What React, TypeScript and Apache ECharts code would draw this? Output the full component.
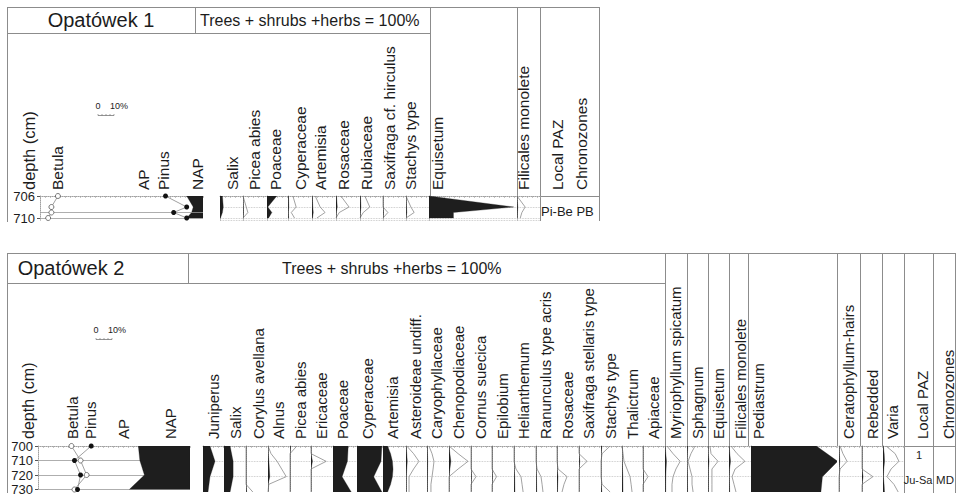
import { useEffect, useRef } from "react";
import * as echarts from "echarts";

// ================= Opatówek 1 (data) =================
const title1 = "Opatówek 1";
const sumText = "Trees + shrubs +herbs = 100%";
const depths1 = [706, 708, 709, 710];
const depthLabels1 = [706, 710];
const sampleLines1 = [709, 710];
const betula1 = [11, 7, 7, 5];
const pinus1 = [77, 90, 82, 90];
const ap1 = [90, 94, 93, 90];
const salix1 = [1.5, 2, 1.5, 0.3];
const picea1 = [0, 0.2, 0.3, 0];
const poaceae1 = [6, 0.5, 3, 1];
const cyperaceae1 = [0.3, 0.5, 0.2, 0.4];
const artemisia1 = [0.2, 0.5, 0.8, 0.3];
const rosaceae1 = [0.3, 0.8, 0.2, 0];
const rubiaceae1 = [0.3, 0.6, 0.2, 0];
const saxifraga1 = [0, 0, 0.3, 0];
const stachys1 = [0, 0.3, 0.5, 0];
const equisetum1 = [0, 52, 15, 15];
const filicales1 = [0, 0.5, 0.3, 0.2];
const headLabels1 = ["depth (cm)", "Betula", "AP", "Pinus", "NAP"];
const taxa1 = ["Salix", "Picea abies", "Poaceae", "Cyperaceae", "Artemisia", "Rosaceae", "Rubiaceae", "Saxifraga cf. hirculus", "Stachys type", "Equisetum", "Filicales monolete"];
const tailLabels1 = ["Local PAZ", "Chronozones"];
const values1 = [salix1, picea1, poaceae1, cyperaceae1, artemisia1, rosaceae1, rubiaceae1, saxifraga1, stachys1, equisetum1, filicales1];
const zone1 = "Pi-Be";
const chrono1 = "PB";

// ================= Opatówek 2 (data) =================
const title2 = "Opatówek 2";
const depths2 = [700, 710, 720, 730];
const depthsFine2 = [700, 705, 710, 715, 720, 725, 730];
const betula2 = [22, 28, 32, 24];
const pinus2 = [35, 24, 28, 26];
const ap2 = [66, 67, 70, 60];
const juniperus2 = [4.6, 7.9, 4.6, 3.3];
const salix2 = [4, 6, 6, 4];
const corylus2 = [0, 0, 0, 0, 0, 0, 0.45];
const alnus2 = [0, 0.2, 0.6, 0.9, 1.2, 0.05, 0];
const picea2 = [0.45, 0, 0, 0, 0, 0, 0];
const ericaceae2 = [0, 0, 1.0, 0, 0, 0, 0];
const poaceae2 = [10, 9.5, 6, 12];
const cyperaceae2 = [16.4, 15.8, 11, 16.4];
const artemisia2 = [3, 5, 6.2, 6.6, 6.2, 5, 3];
const asteroideae2 = [0.05, 0.5, 0.85, 0.5, 0.2, 0.2, 0.2];
const caryophyllaceae2 = [0.13, 0.33, 0.46, 0.4, 0.33, 0.26, 0.26];
const chenopodiaceae2 = [0, 0.6, 1.25, 0.6, 0, 0, 0];
const cornus2 = [0, 0, 0, 0, 0.33, 0, 0];
const epilobium2 = [0, 0, 0, 0, 0.3, 0, 0];
const helianthemum2 = [0, 0, 0, 0.13, 0.46, 0.53, 0.6];
const ranunculus2 = [0, 0, 0, 0.07, 0.33, 0.4, 0.46];
const rosaceae2 = [0, 0, 0, 0.07, 0.66, 0.46, 0.33];
const saxifraga2 = [0, 0, 0.53, 0, 0, 0, 0];
const stachys2 = [0.6, 0.07, 0, 0, 0, 0.07, 0.6];
const thalictrum2 = [0, 0.07, 0.13, 0.33, 0.53, 0.6, 0.66];
const apiaceae2 = [0, 0, 0, 0, 0.33, 0, 0];
const myriophyllum2 = [0.13, 0.53, 1, 0.72, 0.53, 0.46, 0.46];
const sphagnum2 = [0.53, 0.26, 0.07, 0.2, 0.33, 0.33, 0.4];
const equisetum2 = [0.13, 0.2, 0.66, 0.26, 0.26, 0.26, 0.26];
const filicales2 = [0.13, 0.53, 1.05, 0.4, 0.2, 0.33, 0.46];
const pediastrum2 = [43, 57, 47, 46];
const ceratophyllum2 = [0.07, 0.26, 0.53, 0.07, 0, 0, 0];
const rebedded2 = [0, 0, 0, 0, 0.72, 0, 0];
const varia2 = [0.2, 0.8, 1.05, 0.53, 0.26, 0.72, 1];
const headLabels2 = ["depth (cm)", "Betula", "Pinus", "AP", "NAP"];
const taxa2 = ["Juniperus", "Salix", "Corylus avellana", "Alnus", "Picea abies", "Ericaceae", "Poaceae", "Cyperaceae", "Artemisia", "Asteroideae undiff.", "Caryophyllaceae", "Chenopodiaceae", "Cornus suecica", "Epilobium", "Helianthemum", "Ranunculus type acris", "Rosaceae", "Saxifraga stellaris type", "Stachys type", "Thalictrum", "Apiaceae", "Myriophyllum spicatum", "Sphagnum", "Equisetum", "Filicales monolete", "Pediastrum", "Ceratophyllum-hairs", "Rebedded", "Varia"];
const tailLabels2 = ["Local PAZ", "Chronozones"];
const values2 = [juniperus2, salix2, corylus2, alnus2, picea2, ericaceae2, poaceae2, cyperaceae2, artemisia2, asteroideae2, caryophyllaceae2, chenopodiaceae2, cornus2, epilobium2, helianthemum2, ranunculus2, rosaceae2, saxifraga2, stachys2, thalictrum2, apiaceae2, myriophyllum2, sphagnum2, equisetum2, filicales2, pediastrum2, ceratophyllum2, rebedded2, varia2];
const zoneNum2 = "1";
const zone2 = "Ju-Sa";
const chrono2 = "MD";

// ================= layout & style =================
const FONT = "'Liberation Sans', Arial, Helvetica, sans-serif";
const INK = "#1c1c1c";
const FRAME = "#8c8c8c";
const CURVE = "#8a8a8a";
const FILL = "#1e1e1e";
const EXAG = 10;

// [zeroX, width, labelX, mode]
const cols1: [number, number, number, string][] = [
  [220, 23, 232, "fill"], [243, 24, 254, "both"], [267, 21, 275, "fill"], [288, 24, 300, "both"],
  [312, 24, 320, "both"], [336, 24, 343, "both"], [360, 23, 366, "both"], [383, 23, 389, "both"],
  [406, 23, 410, "both"], [429, 88, 437, "fill"], [517, 23, 523, "both"],
];
const head1X = [29, 57, 143, 163, 197];
const tail1X = [557, 581];
const cols2: [number, number, number, string][] = [
  [203, 21, 213, "fill"], [224, 22, 235, "fill"], [246, 22, 258, "both"], [268, 22, 278, "both"],
  [290, 21, 300, "both"], [311, 22, 321, "both"], [333, 24, 342, "fill"], [357, 26, 367, "fill"],
  [383, 23, 392, "fill"], [406, 21, 415, "both"], [427, 22, 436, "both"], [449, 22, 458, "both"],
  [471, 21, 480, "both"], [492, 22, 502, "both"], [514, 22, 523, "both"], [536, 21, 545, "both"],
  [557, 22, 567, "both"], [579, 22, 588, "both"], [601, 21, 610, "both"], [622, 21, 632, "both"],
  [643, 22, 653, "both"], [665, 22, 675, "both"], [687, 21, 697, "both"], [708, 21, 718, "both"],
  [729, 22, 740, "both"], [751, 86, 758, "fill"], [839, 23, 848, "both"], [862, 21, 872, "both"],
  [883, 21, 892, "both"],
];
const head2X = [28, 72, 90, 123, 170];
const tail2X = [922, 948];

function buildOption() {
  const grid: any[] = [];
  const xAxis: any[] = [];
  const yAxis: any[] = [];
  const series: any[] = [];
  const graphic: any[] = [];

  const dottedLine = { show: true, onZero: false, lineStyle: { color: "#a0a0a0", type: "dotted", width: 1 } };

  function panel(left: number, top: number, width: number, height: number, ppp: number, yMin: number, yMax: number, yCfg: any) {
    const gi = grid.length;
    grid.push({ left, top, width, height });
    xAxis.push({
      gridIndex: gi, type: "value", position: "top", min: 0, max: width / ppp, interval: 5 / ppp,
      axisLine: dottedLine,
      axisTick: { show: true, inside: true, length: 2, lineStyle: { color: "#a0a0a0", width: 0.6 } },
      axisLabel: { show: false }, splitLine: { show: false },
    });
    yAxis.push({ gridIndex: gi, type: "value", inverse: true, min: yMin, max: yMax, ...yCfg });
    return gi;
  }

  function fillSeries(gi: number, vals: number[], deps: number[], base?: number) {
    const data = vals.map((v, i) => [v, deps[i]]);
    return {
      type: "custom", xAxisIndex: gi, yAxisIndex: gi, data, silent: true, clip: true, z: 3,
      encode: { x: 0, y: 1 },
      renderItem: (params: any, api: any) => {
        if (params.dataIndex !== 0) return null;
        const n = deps.length;
        let pts: number[][];
        if (base === undefined) {
          pts = [api.coord([0, deps[0]]), ...data.map((d) => api.coord(d)), api.coord([0, deps[n - 1]])];
        } else {
          pts = [...data.map((d) => api.coord(d)), api.coord([base, deps[n - 1]]), api.coord([base, deps[0]])];
        }
        return { type: "polygon", shape: { points: pts }, style: { fill: FILL, stroke: FILL, lineWidth: 0.3 } };
      },
    };
  }

  function curveSeries(gi: number, vals: number[], deps: number[], factor: number) {
    return {
      type: "line", xAxisIndex: gi, yAxisIndex: gi, data: vals.map((v, i) => [v * factor, deps[i]]),
      symbol: "none", silent: true, z: 2, lineStyle: { color: CURVE, width: 0.8 },
    };
  }

  function taxaCols(cols: [number, number, number, string][], vals: number[][], depFor: (v: number[]) => number[], top: number, height: number, ppp: number, yMin: number, yMax: number, yCfg: any) {
    cols.forEach((c, i) => {
      const gi = panel(c[0], top, c[1], height, ppp, yMin, yMax, yCfg);
      const deps = depFor(vals[i]);
      series.push(fillSeries(gi, vals[i], deps));
      if (c[3] === "both") series.push(curveSeries(gi, vals[i], deps, EXAG));
    });
  }

  // ---------- Opatówek 1 ----------
  const top1 = 196, h1 = 24.2, ppp1 = 1.63, yMin1 = 706, yMax1 = 710.4;
  const apCfg1 = {
    axisLine: dottedLine,
    axisTick: { show: true, length: 3, customValues: depthLabels1, lineStyle: { color: "#555" } },
    axisLabel: { show: true, customValues: depthLabels1, fontSize: 13, color: INK, fontFamily: FONT, margin: 5 },
    splitLine: { show: false },
  };
  const ap1gi = panel(40, top1, 163, h1, ppp1, yMin1, yMax1, apCfg1);
  series.push({
    type: "line", xAxisIndex: ap1gi, yAxisIndex: ap1gi, data: [[0, yMin1]], symbol: "none", silent: true, z: 1,
    lineStyle: { opacity: 0 },
    markLine: { silent: true, symbol: "none", label: { show: false }, lineStyle: { color: "#999", type: "solid", width: 0.8 }, data: sampleLines1.map((d) => ({ yAxis: d })) },
  });
  series.push(fillSeries(ap1gi, ap1, depths1, 100));
  series.push({
    type: "line", xAxisIndex: ap1gi, yAxisIndex: ap1gi, data: betula1.map((v, i) => [v, depths1[i]]), z: 5, silent: true,
    symbol: "circle", symbolSize: 5, itemStyle: { color: "#fff", borderColor: "#555", borderWidth: 0.8 }, lineStyle: { color: "#888", width: 0.8 },
  });
  series.push({
    type: "line", xAxisIndex: ap1gi, yAxisIndex: ap1gi, data: pinus1.map((v, i) => [v, depths1[i]]), z: 5, silent: true,
    symbol: "circle", symbolSize: 5, itemStyle: { color: "#111" }, lineStyle: { color: "#888", width: 0.8 },
  });
  const taxaCfg1 = {
    interval: 2, axisLine: dottedLine, axisTick: { show: false }, axisLabel: { show: false },
    splitLine: { show: true, showMinLine: false, lineStyle: { color: "#bbb", type: "dotted", width: 0.8 } },
  };
  taxaCols(cols1, values1, () => depths1, top1, h1, ppp1, yMin1, yMax1, taxaCfg1);

  // ---------- Opatówek 2 ----------
  const top2 = 446, h2 = 46, ppp2 = 1.52, yMin2 = 700, yMax2 = 730;
  const apCfg2 = {
    interval: 10,
    axisLine: dottedLine,
    axisTick: { show: true, length: 3, lineStyle: { color: "#555" } },
    axisLabel: { show: true, fontSize: 13, color: INK, fontFamily: FONT, margin: 5, showMinLabel: true, showMaxLabel: true },
    splitLine: { show: true, showMinLine: false, showMaxLine: true, lineStyle: { color: "#999", type: "solid", width: 0.8 } },
  };
  const ap2gi = panel(38, top2, 152, h2, ppp2, yMin2, yMax2, apCfg2);
  series.push(fillSeries(ap2gi, ap2, depths2, 100));
  series.push({
    type: "line", xAxisIndex: ap2gi, yAxisIndex: ap2gi, data: betula2.map((v, i) => [v, depths2[i]]), z: 5, silent: true,
    symbol: "circle", symbolSize: 5, itemStyle: { color: "#fff", borderColor: "#555", borderWidth: 0.8 }, lineStyle: { color: "#888", width: 0.8 },
  });
  series.push({
    type: "line", xAxisIndex: ap2gi, yAxisIndex: ap2gi, data: pinus2.map((v, i) => [v, depths2[i]]), z: 5, silent: true,
    symbol: "circle", symbolSize: 5, itemStyle: { color: "#111" }, lineStyle: { color: "#888", width: 0.8 },
  });
  const taxaCfg2 = {
    interval: 10, axisLine: dottedLine, axisTick: { show: false }, axisLabel: { show: false },
    splitLine: { show: true, showMinLine: false, showMaxLine: false, lineStyle: { color: "#bbb", type: "dotted", width: 0.8 } },
  };
  taxaCols(cols2, values2, (v) => (v.length === depths2.length ? depths2 : depthsFine2), top2, h2, ppp2, yMin2, yMax2, taxaCfg2);

  // ---------- frames ----------
  const L = (x1: number, y1: number, x2: number, y2: number) =>
    graphic.push({ type: "line", silent: true, shape: { x1, y1, x2, y2 }, style: { stroke: FRAME, lineWidth: 1 } });
  // top
  L(7, 7.5, 599, 7.5); L(7, 33.5, 430, 33.5);
  L(7.5, 7, 7.5, 222); L(195.5, 7, 195.5, 33); L(430.5, 7, 430.5, 196);
  L(517.5, 7, 517.5, 196); L(540.5, 7, 540.5, 221); L(599.5, 7, 599.5, 221);
  L(540, 196.5, 599, 196.5);
  // bottom
  L(7, 253.5, 956, 253.5); L(7, 283.5, 665, 283.5);
  L(7.5, 253, 7.5, 493); L(188.5, 253, 188.5, 283);
  [665, 687, 708, 729, 748, 837, 860, 882].forEach((x) => L(x + 0.5, 253, x + 0.5, 446));
  [904, 933, 955].forEach((x) => L(x + 0.5, 253, x + 0.5, 493));
  L(904, 446.5, 955, 446.5);

  // ---------- texts ----------
  const T = (text: string, x: number, y: number, size: number, align = "left", rot = 0) =>
    graphic.push({
      type: "text", silent: true, x, y, rotation: rot,
      style: { text, fontSize: size, fontFamily: FONT, fill: INK, align, verticalAlign: "middle" },
    });
  T(title1, 101, 20, 20, "center");
  T(sumText, 200, 20, 16);
  T(title2, 71, 268, 20, "center");
  T(sumText, 282, 268, 16);
  const R = Math.PI / 2;
  headLabels1.forEach((s, i) => T(s, head1X[i], 190, i === 0 ? 16.5 : 15.5, "left", R));
  taxa1.forEach((s, i) => T(s, cols1[i][2], 190, 15.5, "left", R));
  tailLabels1.forEach((s, i) => T(s, tail1X[i], 190, 15.5, "left", R));
  headLabels2.forEach((s, i) => T(s, head2X[i], 439, i === 0 ? 16 : 15, "left", R));
  taxa2.forEach((s, i) => T(s, cols2[i][2], 439, 15, "left", R));
  tailLabels2.forEach((s, i) => T(s, tail2X[i], 439, 15, "left", R));
  T(`${zone1} ${chrono1}`, 541, 211, 13);
  T(zoneNum2, 919, 455, 11, "center");
  T(zone2, 918, 480, 11, "center");
  T(chrono2, 945, 480, 11.5, "center");

  // scale bars
  const scale = (x: number, y: number) => {
    T("0", x, y, 9, "center");
    T("10%", x + 21, y, 9, "center");
    graphic.push({ type: "line", silent: true, shape: { x1: x, y1: y + 9.5, x2: x + 16, y2: y + 9.5 }, style: { stroke: "#666", lineWidth: 0.7 } });
    [0, 4, 8, 12, 16].forEach((d) => graphic.push({ type: "line", silent: true, shape: { x1: x + d, y1: y + 8, x2: x + d, y2: y + 9.5 }, style: { stroke: "#666", lineWidth: 0.6 } }));
  };
  scale(98, 106);
  scale(96, 330);

  return { animation: false, backgroundColor: "#fff", grid, xAxis, yAxis, series, graphic };
}

export default function App() {
  const ref = useRef<HTMLDivElement>(null);
  useEffect(() => {
    if (!ref.current) return;
    const chart = echarts.init(ref.current, null, { renderer: "svg" });
    chart.setOption(buildOption());
    return () => chart.dispose();
  }, []);
  return <div ref={ref} style={{ position: "fixed", left: 0, top: 0, width: 957, height: 496, background: "#fff" }} />;
}
